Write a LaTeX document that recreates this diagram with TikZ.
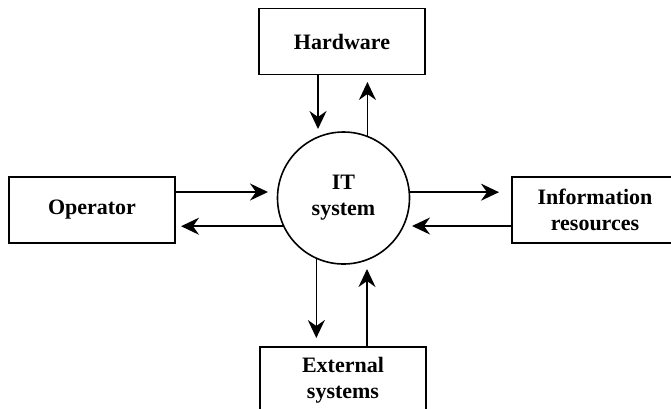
\documentclass[tikz,border=0pt]{standalone}
\usepackage{fontspec}
\setmainfont{Liberation Serif}
\usepackage{tikz}
\usetikzlibrary{arrows.meta}

\begin{document}
\begin{tikzpicture}[x=1pt, y=-1pt, font=\fontsize{22}{26}\selectfont\bfseries,
  box/.style={draw, line width=1.6pt, minimum width=166pt, minimum height=66pt, align=center, inner sep=0pt},
  arr/.style={-{Stealth[length=18pt, width=17pt, inset=6pt]}, line width=1.6pt}]
\clip (0,0) rectangle (671,408);

\node[circle, draw, line width=1.6pt, minimum size=132pt, inner sep=0pt, align=center] (sys) at (343.5,198) {IT\\system};
\node[box] (hw) at (342,41.5) {Hardware};
\node[box] (op) at (92,210) {Operator};
\node[box] (info) at (595,210) {Information\\resources};
\node[box] (ext) at (343,380) {External\\systems};

\coordinate (hwin) at (318,129);
\coordinate (hwout) at (367,82);
\coordinate (opin) at (268,192);
\coordinate (opout) at (181,226);
\coordinate (infoin) at (499,192);
\coordinate (infoout) at (412,226);
\coordinate (extin) at (317,338);
\coordinate (extout) at (367,269);

\draw[arr] ([xshift=-24pt]hw.south) -- (hwin);
\draw[arr] (sys.69) -- (sys.69 |- hwout);
\draw[arr] ([yshift=18pt]op.east) -- (opin);
\draw[arr] (sys.205) -- (sys.205 -| opout);
\draw[arr] (sys.5) -- (sys.5 -| infoin);
\draw[arr] ([yshift=-16pt]info.west) -- (infoout);
\draw[arr] (sys.246) -- (sys.246 |- extin);
\draw[arr] ([xshift=24pt]ext.north) -- (extout);
\end{tikzpicture}
\end{document}
